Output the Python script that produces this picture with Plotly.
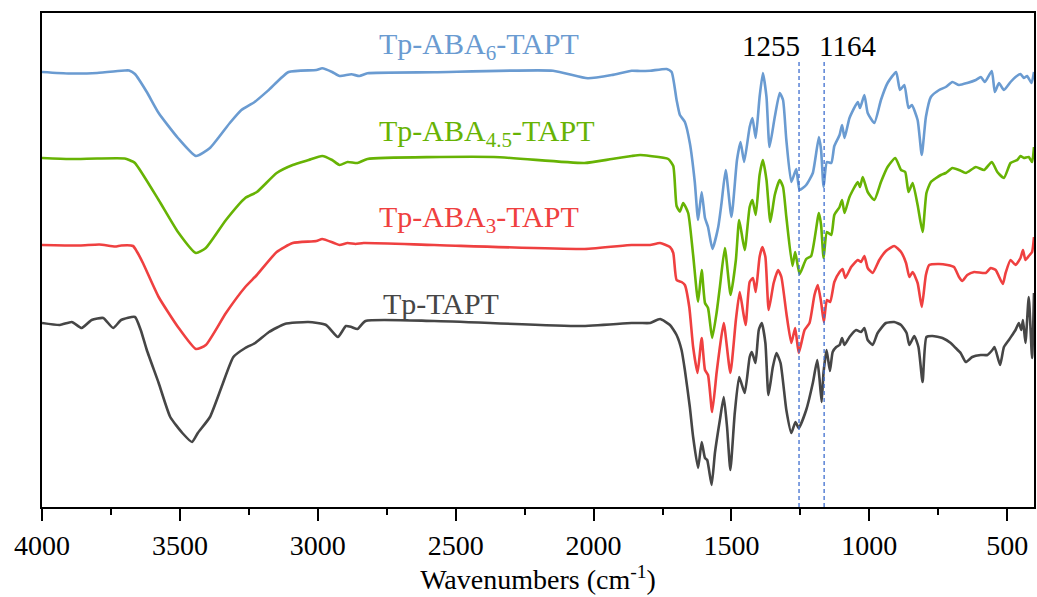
import plotly.graph_objects as go

# ---------------- data ----------------
# Transmittance in arbitrary units (curves offset as in the original figure)
wn_aba6 = [4000, 3900, 3800, 3700, 3684, 3663, 3620, 3577, 3507, 3442, 3391, 3319, 3277, 3229, 3178, 3106, 3005, 2984, 2948, 2921,
           2878, 2849, 2820, 2578, 2147, 2021, 1934, 1862, 1831, 1795, 1735, 1717, 1699, 1687, 1669, 1651, 1633, 1621, 1608, 1596,
           1585, 1569, 1548, 1536, 1521, 1500, 1480, 1467, 1454, 1434, 1424, 1412, 1398, 1386, 1373, 1362, 1343, 1325, 1313, 1301,
           1283, 1265, 1253, 1229, 1205, 1183, 1175, 1166, 1154, 1138, 1127, 1108, 1099, 1090, 1072, 1042, 1034, 1018, 1006, 982,
           958, 934, 903, 889, 873, 858, 846, 825, 810, 795, 777, 747, 723, 699, 675, 645, 614, 596, 581, 556,
           545, 530, 512, 488, 470, 452, 440, 428, 412, 403]
t_aba6 = [435, 433.5, 434, 436.5, 436.5, 433, 415, 394, 369, 351, 359, 384, 397, 405, 417, 435, 437, 438.7, 435, 431,
          432.7, 431, 433.7, 434.7, 436.3, 428.7, 432, 436.3, 436, 436.3, 438, 435, 407, 392, 385, 364, 325, 287, 315, 289,
          280, 258, 280, 304, 337, 290, 347, 365, 345, 380, 389, 369, 410, 434, 410, 360, 390, 414, 407, 367,
          325, 338, 317, 322, 334, 370, 357, 320, 345, 344, 361, 372, 382, 369, 389, 405, 399, 412, 394, 384,
          407, 424, 435, 417, 422, 399, 402, 387, 352, 390, 410, 417, 420, 425, 422, 424, 427, 430, 425, 436,
          415, 424, 417, 425, 430, 433, 429, 431, 424, 435]

wn_aba45 = [4000, 3900, 3800, 3700, 3684, 3663, 3577, 3507, 3442, 3406, 3333, 3263, 3221, 3149, 3091, 3033, 2984, 2948, 2921, 2892,
            2856, 2820, 2362, 2033, 1934, 1862, 1831, 1795, 1729, 1711, 1699, 1687, 1675, 1657, 1639, 1621, 1608, 1596, 1585, 1570,
            1554, 1542, 1524, 1503, 1484, 1472, 1452, 1434, 1424, 1412, 1398, 1386, 1373, 1359, 1343, 1325, 1313, 1301, 1279, 1269,
            1253, 1229, 1211, 1183, 1175, 1166, 1154, 1138, 1127, 1108, 1099, 1090, 1072, 1042, 1034, 1024, 1006, 982, 958, 934,
            906, 885, 870, 858, 843, 825, 807, 793, 777, 741, 723, 699, 675, 650, 614, 584, 556, 536, 512, 488,
            464, 452, 440, 422, 410, 403]
t_aba45 = [349, 348, 348.5, 348.5, 347, 344, 307, 275, 254, 259, 287, 309, 315, 334, 342, 347, 351, 347, 342, 345,
           344, 348, 350, 344, 348, 351, 352, 351, 348, 341, 301, 295.3, 304, 294, 252, 205.3, 237, 204, 199, 169,
           194, 220, 259, 212, 247, 287, 257, 300, 307, 292, 332, 347, 327, 285, 312, 327, 320, 290, 241, 255,
           233, 248, 251, 294, 282, 249, 275, 272, 292, 300, 307, 294, 310, 325, 320, 330, 315, 307, 325, 340,
           349, 337, 335, 315, 324, 302, 275, 314, 325, 332, 334, 339, 337, 334, 340, 337, 345, 335, 329, 344,
           347, 351, 349, 350, 345, 360]

wn_aba3 = [4000, 3863, 3792, 3735, 3713, 3670, 3655, 3634, 3577, 3507, 3442, 3406, 3333, 3263, 3221, 3149, 3091, 3005, 2984, 2941,
           2921, 2892, 2863, 2834, 2578, 2033, 1862, 1831, 1795, 1759, 1723, 1711, 1699, 1681, 1669, 1653, 1639, 1623, 1608, 1596,
           1585, 1570, 1554, 1542, 1528, 1504, 1484, 1470, 1449, 1434, 1422, 1412, 1398, 1388, 1377, 1365, 1347, 1331, 1319, 1301,
           1283, 1269, 1256, 1235, 1217, 1199, 1187, 1175, 1165, 1154, 1142, 1127, 1108, 1097, 1087, 1066, 1042, 1030, 1018, 1006,
           988, 964, 940, 910, 885, 867, 855, 843, 825, 810, 795, 783, 747, 717, 693, 675, 663, 645, 620, 578,
           560, 542, 516, 506, 488, 470, 452, 443, 434, 419, 410, 403]
t_aba3 = [262, 261.5, 262.5, 260.5, 261.5, 261, 255, 244, 210, 180, 158, 162, 194, 220, 232, 255, 264, 266, 268, 264,
          262, 264, 263, 264, 262, 258, 262, 262, 262, 264, 260, 254, 227, 225, 222, 200, 160, 134, 169, 137,
          132, 95, 134, 160, 184, 134, 187, 215, 182, 225, 229, 215, 250, 260, 250, 197, 224, 237, 230, 194,
          164, 179, 154, 177, 184, 212, 222, 205, 185, 207, 205, 225, 235, 238, 229, 240, 247, 245, 251, 239,
          234, 247, 256, 261, 255, 244, 230, 235, 224, 200, 232, 242, 243, 242, 240, 230, 226, 232, 235, 234,
          239, 237, 223, 234, 247, 242, 249, 257, 247, 252, 255, 270]

wn_tapt = [4000, 3935, 3892, 3856, 3820, 3778, 3742, 3713, 3663, 3642, 3620, 3577, 3535, 3491, 3456, 3435, 3391, 3349, 3306, 3263,
           3227, 3177, 3120, 3034, 2970, 2927, 2898, 2878, 2856, 2827, 2578, 2048, 1862, 1831, 1795, 1759, 1723, 1699, 1681, 1669,
           1651, 1639, 1621, 1608, 1596, 1588, 1572, 1560, 1542, 1528, 1516, 1504, 1488, 1472, 1452, 1434, 1426, 1413, 1401, 1390,
           1377, 1366, 1350, 1337, 1322, 1301, 1283, 1268, 1256, 1229, 1205, 1189, 1181, 1173, 1166, 1155, 1143, 1133, 1120, 1108,
           1099, 1090, 1072, 1048, 1030, 1018, 1006, 988, 970, 940, 910, 885, 865, 855, 837, 822, 807, 793, 771, 735,
           705, 687, 669, 650, 627, 596, 572, 554, 546, 526, 512, 494, 482, 470, 458, 449, 443, 434, 422, 410, 403]
t_tapt = [184, 182, 185, 179, 187, 189, 179, 187, 190, 177, 157, 124, 90, 74, 65, 74, 90, 120, 150, 159,
          164, 175, 183, 185, 182, 170, 181, 180, 178, 186, 186, 181, 184, 184, 184, 188, 182, 172, 157, 137,
          100, 70, 39, 65, 49, 47, 22, 54, 87, 110, 80, 37, 94, 130, 114, 150, 155, 144, 177, 184,
          164, 112, 140, 154, 144, 97, 74, 85, 79, 97, 124, 147, 129, 105, 135, 157, 136, 155, 160, 162,
          169, 162, 170, 177, 175, 179, 167, 162, 174, 184, 185, 182, 174, 162, 171, 160, 125, 170, 171, 169,
          164, 159, 154, 145, 150, 152, 152, 157, 160, 142, 160, 167, 172, 177, 184, 177, 187, 164, 210, 149, 214]

series_names = ["Tp-TAPT", "Tp-ABA<sub>3</sub>-TAPT", "Tp-ABA<sub>4.5</sub>-TAPT", "Tp-ABA<sub>6</sub>-TAPT"]
series_colors = ["#464646", "#EF4040", "#67B304", "#6A9BD1"]
series_x = [wn_tapt, wn_aba3, wn_aba45, wn_aba6]
series_y = [t_tapt, t_aba3, t_aba45, t_aba6]
label_x = [2769, 2784, 2784, 2784]
label_y = [204, 288, 374, 461]

marker_wn = [1255, 1164]
marker_labels = ["1255", "1164"]
marker_label_x = [1355, 1081]
marker_top = 447
marker_label_y = 461

x_ticks = [4000, 3500, 3000, 2500, 2000, 1500, 1000, 500]

FONT = "Liberation Serif, Times New Roman, serif"

fig = go.Figure()
for xs, ys, name, col in zip(series_x, series_y, series_names, series_colors):
    fig.add_trace(go.Scatter(x=xs, y=ys, mode="lines", name=name,
                             line=dict(color=col, width=2.6, shape="spline", smoothing=0.5),
                             showlegend=False, hoverinfo="skip"))

for wn in marker_wn:
    fig.add_shape(type="line", xref="x", yref="y", x0=wn, x1=wn, y0=0, y1=marker_top,
                  line=dict(color="#3F6FCF", width=1.3, dash="4px,3px"))

for name, col, lx, ly in zip(series_names, series_colors, label_x, label_y):
    fig.add_annotation(x=lx, y=ly, xref="x", yref="y", text=name, showarrow=False,
                       xanchor="left", yanchor="middle",
                       font=dict(family=FONT, size=30, color=col))

for lab, lx in zip(marker_labels, marker_label_x):
    fig.add_annotation(x=lx, y=marker_label_y, xref="x", yref="y", text=lab, showarrow=False,
                       xanchor="center", yanchor="middle",
                       font=dict(family=FONT, size=29, color="black"))

fig.update_layout(
    width=1037, height=597,
    margin=dict(l=42, r=1, t=13, b=90),
    paper_bgcolor="white", plot_bgcolor="white",
    font=dict(family=FONT, color="black"),
)
fig.update_xaxes(range=[4000, 403], tickvals=x_ticks, ticks="outside", ticklen=12, tickwidth=2,
                 tickcolor="black", showline=True, linewidth=2, linecolor="black", mirror=True,
                 showgrid=False, zeroline=False,
                 tickfont=dict(family=FONT, size=28, color="black"),
                 minor=dict(dtick=250, tick0=0, ticks="outside", ticklen=6, tickwidth=2, tickcolor="black", showgrid=False),
                 title=dict(text="Wavenumbers (cm<sup>-1</sup>)", font=dict(family=FONT, size=28, color="black"),
                            standoff=6))
fig.update_yaxes(range=[0, 494], showticklabels=False, ticks="", showline=True, linewidth=2,
                 linecolor="black", mirror=True, showgrid=False, zeroline=False)

fig.write_html("out.html")
